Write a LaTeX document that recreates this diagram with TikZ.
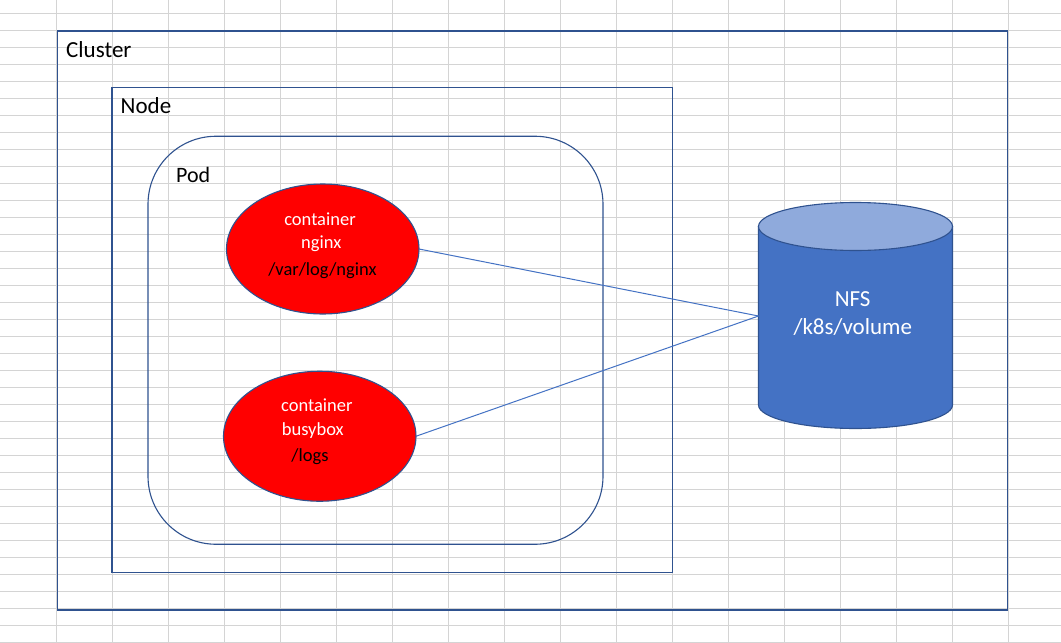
\documentclass[tikz,border=0pt]{standalone}
\usepackage{fontspec}
\setmainfont{Carlito}
\definecolor{xlgrid}{HTML}{D4D4D4}
\definecolor{msline}{HTML}{2F528F}
\definecolor{msblue}{HTML}{4472C4}
\definecolor{mstop}{HTML}{8FAADC}
\usetikzlibrary{shapes.geometric}
\newcommand{\ttlfont}{\fontsize{23}{27}\selectfont}
\newcommand{\ctrfont}{\fontsize{18.5}{22}\selectfont}

\begin{document}
\begin{tikzpicture}[x=1pt,y=-1pt,
  gridln/.style={draw=xlgrid,line width=1.2pt},
  box/.style={draw=msline,line width=1.1pt,inner sep=0pt,outer sep=0pt},
  pod/.style={box,rounded corners=68pt},
  ctr/.style={ellipse,draw=msline,line width=1.1pt,fill=red,inner sep=0pt,outer sep=0pt,
    minimum width=192.5pt,minimum height=130pt},
  nfsbody/.style={draw=msline,line width=1.1pt,fill=msblue},
  nfstop/.style={ellipse,draw=msline,line width=1.1pt,fill=mstop,inner sep=0pt,outer sep=0pt,
    minimum width=194pt,minimum height=48pt},
  lnk/.style={draw=msblue,line width=1pt},
  ttl/.style={anchor=base west,inner sep=0pt,font=\ttlfont},
  wht/.style={anchor=base,inner sep=0pt,font=\ctrfont,text=white},
  blk/.style={anchor=base,inner sep=0pt,font=\ctrfont,text=black},
  vol/.style={anchor=base,inner sep=0pt,font=\ttlfont,text=white}]
  \useasboundingbox (0,0) rectangle (1061,643);
  \fill[white] (0,0) rectangle (1061,643);
  % sheet grid behind everything
  \foreach \gx in {0,...,17} \draw[gridln] (56.3+56*\gx,0) -- (56.3+56*\gx,643);
  \foreach \gy in {0,...,37} \draw[gridln] (0,13.3+17*\gy) -- (1061,13.3+17*\gy);
  % nested frames
  \node[box,minimum width=950pt,minimum height=579pt] (cluster) at (532.5,320.5) {};
  \node[box,minimum width=560.5pt,minimum height=485pt] (worker) at (392.25,330) {};
  \node[pod,minimum width=455pt,minimum height=408pt] (pod) at (375.5,340.25) {};
  \node[ttl] (clusterlbl) at (66,57.5) {Cluster};
  \node[ttl] (workerlbl) at (120.5,113.5) {Node};
  \node[ttl,font=\fontsize{22}{26}\selectfont] (podlbl) at (176,182) {Pod};
  % containers
  \node[ctr] (nginx) at (322.75,249) {};
  \node[wht] (nginx1) at (320,225) {container};
  \node[wht] (nginx2) at (321.3,248.3) {nginx};
  \node[blk] (nginx3) at (322.5,275) {/var/log/nginx};
  \node[ctr] (busybox) at (319.75,436.25) {};
  \node[wht] (busybox1) at (316.8,411.7) {container};
  \node[wht] (busybox2) at (312.8,435.3) {busybox};
  \node[blk] (busybox3) at (310,461.7) {/logs};
  % volume
  \draw[nfsbody] (758.5,226.5) -- (758.5,405)
    arc[start angle=180,end angle=360,x radius=97pt,y radius=23.5pt] -- (952.5,226.5) -- cycle;
  \node[nfstop] (nfscap) at (855.5,226.5) {};
  \coordinate (nfsin) at (758.5,316);
  \node[vol] (nfs1) at (852.7,306) {NFS};
  \node[vol] (nfs2) at (852.8,334) {/k8s/volume};
  \draw[lnk] (nginx.east) -- (nfsin);
  \draw[lnk] (busybox.east) -- (nfsin);
\end{tikzpicture}
\end{document}
